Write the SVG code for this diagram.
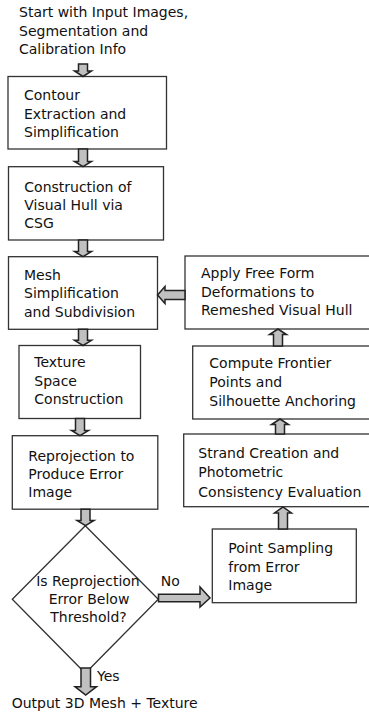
<svg xmlns="http://www.w3.org/2000/svg" width="369" height="715" viewBox="0 0 369 715">
<style>
text{font-family:"DejaVu Sans",Verdana,sans-serif;font-size:14px;fill:#111}
.box{fill:#fff;stroke:#333;stroke-width:1.3}
.arr{fill:#c0c0c0;stroke:#222;stroke-width:1.5;stroke-linejoin:miter}
.mid{text-anchor:middle}
</style>
<rect width="369" height="715" fill="#fff"/>
<g id="start">
<text x="19" y="17">Start with Input Images,</text>
<text x="19" y="35.5">Segmentation and</text>
<text x="19" y="54">Calibration Info</text>
</g>
<g id="contour">
<rect class="box" x="8" y="76.5" width="158.5" height="72.5"/>
<text x="24" y="100">Contour</text>
<text x="24" y="118.5">Extraction and</text>
<text x="24" y="137">Simplification</text>
</g>
<g id="visualhull">
<rect class="box" x="8.5" y="166.7" width="155" height="73.3"/>
<text x="24.3" y="191.7">Construction of</text>
<text x="24.3" y="210">Visual Hull via</text>
<text x="24.3" y="228.3">CSG</text>
</g>
<g id="mesh">
<rect class="box" x="8.5" y="256.7" width="149" height="72.6"/>
<text x="24" y="280">Mesh</text>
<text x="24" y="298.3">Simplification</text>
<text x="24" y="316.7">and Subdivision</text>
</g>
<g id="texture">
<rect class="box" x="19" y="345.5" width="121.5" height="73"/>
<text x="34.3" y="367.3">Texture</text>
<text x="34.3" y="385.7">Space</text>
<text x="34.3" y="404">Construction</text>
</g>
<g id="reprojection">
<rect class="box" x="12.3" y="435.7" width="145.5" height="73.5"/>
<text x="28.3" y="461">Reprojection to</text>
<text x="28.3" y="479.3">Produce Error</text>
<text x="28.3" y="497.3">Image</text>
</g>
<g id="decision">
<polygon class="box" points="85.3,525.7 158.3,599.3 85.3,673.3 12.3,599.3"/>
<text class="mid" x="88" y="586">Is Reprojection</text>
<text class="mid" x="89" y="604">Error Below</text>
<text class="mid" x="88.5" y="622">Threshold?</text>
</g>
<g id="output">
<text x="11.7" y="708">Output 3D Mesh + Texture</text>
</g>
<g id="ffd">
<rect class="box" x="185" y="256" width="190" height="73"/>
<text x="201" y="278">Apply Free Form</text>
<text x="201" y="296.5">Deformations to</text>
<text x="201" y="315">Remeshed Visual Hull</text>
</g>
<g id="frontier">
<rect class="box" x="192.7" y="346" width="182" height="73"/>
<text x="209.3" y="368">Compute Frontier</text>
<text x="209.3" y="387">Points and</text>
<text x="209.3" y="406">Silhouette Anchoring</text>
</g>
<g id="strand">
<rect class="box" x="183.7" y="434" width="191" height="72.7"/>
<text x="198.3" y="457.5">Strand Creation and</text>
<text x="198.3" y="477">Photometric</text>
<text x="198.3" y="496.7">Consistency Evaluation</text>
</g>
<g id="sampling">
<rect class="box" x="212.3" y="529" width="144" height="73.7"/>
<text x="228.3" y="553.3">Point Sampling</text>
<text x="228.3" y="571.7">from Error</text>
<text x="228.3" y="590">Image</text>
</g>
<g id="connectors">
<path class="arr" d="M78.5,64 H87.5 V71 H91.5 L83,76.5 L74.5,71 H78.5 Z"/>
<path class="arr" d="M78.5,149 H87.5 V161.5 H91.5 L83,166.7 L74.5,161.5 H78.5 Z"/>
<path class="arr" d="M78.5,240 H87.5 V251.5 H91.5 L83,256.7 L74.5,251.5 H78.5 Z"/>
<path class="arr" d="M78.5,329.3 H87.5 V340.3 H91.5 L83,345.5 L74.5,340.3 H78.5 Z"/>
<path class="arr" d="M75.5,418.5 H84.5 V430.5 H88.5 L80,435.7 L71.5,430.5 H75.5 Z"/>
<path class="arr" d="M81,509.2 H90 V520.5 H94 L85.5,525.7 L77,520.5 H81 Z"/>
<path class="arr" d="M81,668 H90.5 V686.7 H96.5 L85.7,695 L75,686.7 H81 Z"/>
<path class="arr" d="M185,290.5 V299.5 H165 V303.5 L157.5,295 L165,286.5 V290.5 Z"/>
<path class="arr" d="M158.5,594.3 H200 V587 L210,598 L200,607 V601.7 H158.5 Z"/>
<path class="arr" d="M273.5,346 H282.5 V334.5 H286.5 L278,329 L269.5,334.5 H273.5 Z"/>
<path class="arr" d="M275.5,434 H284.5 V424.5 H288.5 L280,419 L271.5,424.5 H275.5 Z"/>
<path class="arr" d="M278.5,529 H287.5 V513 H291.5 L283,507 L274.5,513 H278.5 Z"/>
<text x="97" y="680.5">Yes</text>
<text x="160.7" y="586">No</text>
</g>
</svg>
